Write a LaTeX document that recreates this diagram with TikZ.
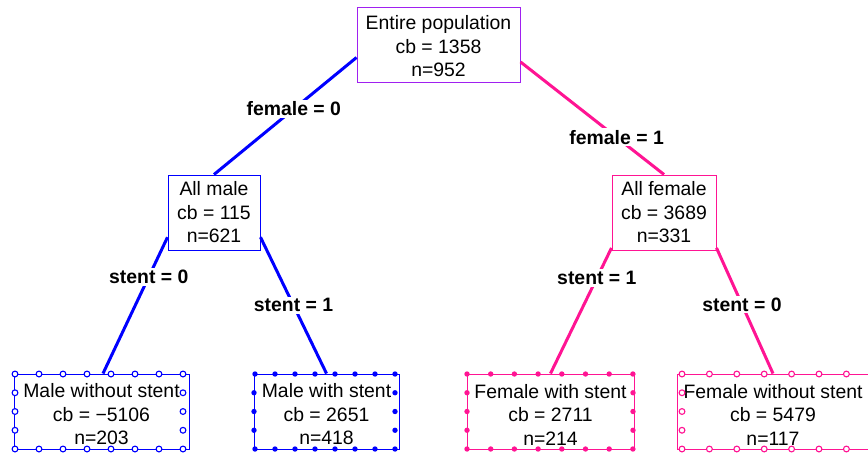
\documentclass[tikz,border=0pt]{standalone}
\usepackage{fontspec}
\setmainfont{Liberation Sans}
\usetikzlibrary{calc}
\definecolor{rblue}{RGB}{0,0,255}
\definecolor{rpink}{RGB}{255,20,147}
\definecolor{rpurple}{RGB}{160,32,240}
\newcommand\mytopstrut[1]{\rule{0pt}{#1}}
\begin{document}
\begin{tikzpicture}[x=1pt,y=-1pt,
  every node/.style={font=\fontsize{19.4}{23.5}\selectfont},
  box/.style={draw, line width=1pt, fill=white, inner sep=0pt, align=center, minimum height=75pt},
  edge/.style={line width=3pt},
  lab/.style={fill=white, text=black, font=\fontsize{19.4}{23.5}\selectfont\bfseries, inner sep=2pt},
  openmk/.style={line width=1.1pt, fill=white}]
\useasboundingbox (0,0) rectangle (868,456);
% nodes
\node[box, draw=rpurple, minimum width=163pt] (root) at (438.5,44.5) {\mytopstrut{18pt}Entire population\\cb = 1358\\n=952};
\node[box, draw=rblue, minimum width=92pt] (male) at (214,212.5) {All male\\cb = 115\\n=621};
\node[box, draw=rpink, minimum width=104pt] (female) at (664,212.5) {All female\\cb = 3689\\n=331};
\node[box, draw=rblue, minimum width=175pt] (mwo) at (101.5,411.5) {\mytopstrut{20pt}Male without stent\\cb = −5106\\n=203};
\node[box, draw=rblue, minimum width=145pt] (mw) at (326.5,411.5) {\mytopstrut{20pt}Male with stent\\cb = 2651\\n=418};
\node[box, draw=rpink, minimum width=167pt] (fw) at (550.5,411.5) {\mytopstrut{20pt}Female with stent\\cb = 2711\\n=214};
\node[box, draw=rpink, minimum width=192pt] (fwo) at (773,411.5) {\mytopstrut{20pt}Female without stent\\cb = 5479\\n=117};
% edges
\draw[edge, rblue] (root.189) -- node[lab, pos=0.44]{female = 0} (male.north);
\draw[edge, rpink] (root.348) -- node[lab, pos=0.67]{female = 1} (female.north);
\draw[edge, rblue] (male.208) -- node[lab, pos=0.29]{stent = 0} ([xshift=1.5pt]mwo.north);
\draw[edge, rblue] (male.332) -- node[lab, pos=0.50]{stent = 1} (mw.north);
\draw[edge, rpink] (female.214) -- node[lab, pos=0.24]{stent = 1} (fw.north);
\draw[edge, rpink] (female.326) -- node[lab, pos=0.45]{stent = 0} (fwo.north);
% markers
\foreach \k in {0,...,7} {
  \draw[draw=rblue, openmk] (15+24*\k,374) circle (2.9pt);
  \draw[draw=rblue, openmk] (15+24*\k,449) circle (2.9pt);
  \fill[rblue] (255+20*\k,374) circle (2.7pt);
  \fill[rblue] (255+20*\k,449) circle (2.7pt);
  \fill[rpink] (467+23.7*\k,374) circle (2.7pt);
  \fill[rpink] (467+23.7*\k,449) circle (2.7pt);
  \draw[draw=rpink, openmk] (682+27.4*\k,374) circle (2.9pt);
  \draw[draw=rpink, openmk] (682+27.4*\k,449) circle (2.9pt);
}
\foreach \j in {1,2,3} {
  \draw[draw=rblue, openmk] (15,374+18.75*\j) circle (2.9pt);
  \draw[draw=rblue, openmk] (183,374+18.75*\j) circle (2.9pt);
  \fill[rblue] (254,374+18.75*\j) circle (2.7pt);
  \fill[rblue] (395,374+18.75*\j) circle (2.7pt);
  \fill[rpink] (467,374+18.75*\j) circle (2.7pt);
  \fill[rpink] (633,374+18.75*\j) circle (2.7pt);
  \draw[draw=rpink, openmk] (682,374+18.75*\j) circle (2.9pt);
}
\end{tikzpicture}
\end{document}
